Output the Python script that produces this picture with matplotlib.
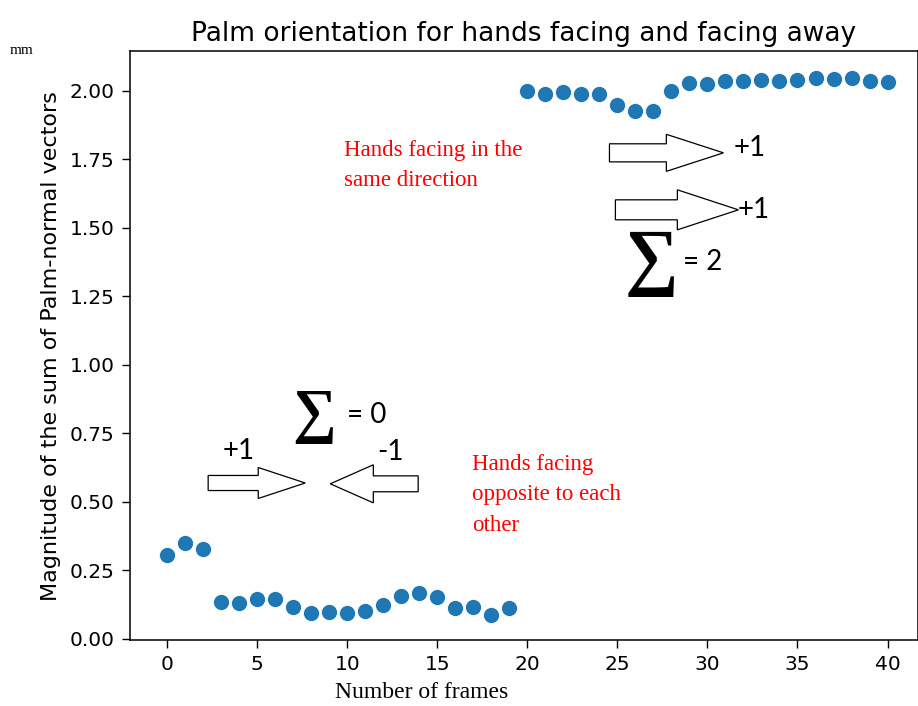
import matplotlib
matplotlib.use("Agg")
import matplotlib.pyplot as plt
from matplotlib.patches import FancyArrow

frames = list(range(41))
magnitude = [0.307, 0.351, 0.327, 0.135, 0.130, 0.147, 0.147, 0.116, 0.094, 0.099,
             0.094, 0.100, 0.123, 0.157, 0.169, 0.152, 0.112, 0.116, 0.088, 0.112,
             2.000, 1.988, 1.995, 1.989, 1.989, 1.949, 1.928, 1.928, 2.001, 2.030,
             2.024, 2.036, 2.036, 2.040, 2.036, 2.040, 2.046, 2.044, 2.046, 2.038,
             2.034]

title = "Palm orientation for hands facing and facing away"
xlabel = "Number of frames"
ylabel = "Magnitude of the sum of Palm-normal vectors"
xticks = [0, 5, 10, 15, 20, 25, 30, 35, 40]
yticks = [0.00, 0.25, 0.50, 0.75, 1.00, 1.25, 1.50, 1.75, 2.00]

fig = plt.figure(figsize=(9.18, 7.06), dpi=100)
ax = fig.add_axes([0.1416, 0.0935, 0.858, 0.834])

ax.scatter(frames, magnitude, s=135, color="#1f77b4", edgecolor="white", linewidth=0.6, zorder=3)
ax.set_xlim(-2.06, 41.67)
ax.set_ylim(-0.004, 2.145)
ax.set_xticks(xticks)
ax.set_yticks(yticks)
ax.set_yticklabels([f"{v:.2f}" for v in yticks])
ax.tick_params(labelsize=14.5, length=5.5, width=1.0, pad=5.5)
for s in ax.spines.values():
    s.set_linewidth(1.1)
ax.set_title(title, fontsize=19, pad=7)
ax.set_ylabel(ylabel, fontsize=16, labelpad=6)

serif = ["Liberation Serif", "DejaVu Serif"]
calib = ["Lato", "DejaVu Sans"]

fig.text(0.459, 0.0198, xlabel, family=serif, fontsize=17, ha="center", va="center")
fig.text(0.011, 0.929, "mm", family=serif, fontsize=11, ha="left", va="center")

ax.text(9.83, 1.728, "Hands facing in the\nsame direction", family=serif, fontsize=16.5,
        color="red", ha="left", va="center", linespacing=1.6)
ax.text(16.94, 0.526, "Hands facing\nopposite to each\nother", family=serif, fontsize=16.5,
        color="red", ha="left", va="center", linespacing=1.6)

def block_arrow(x0, x1, y, w, hw, hl):
    ax.add_patch(FancyArrow(x0, y, x1 - x0, 0, width=w, head_width=hw, head_length=hl,
                            length_includes_head=True, facecolor="white", edgecolor="black",
                            linewidth=0.9, zorder=4))

block_arrow(24.56, 30.89, 1.774, 0.066, 0.135, 3.17)
block_arrow(24.89, 31.72, 1.566, 0.073, 0.146, 3.39)
block_arrow(2.28, 7.67, 0.569, 0.055, 0.113, 2.61)
block_arrow(13.94, 9.06, 0.566, 0.058, 0.139, 2.39)

ax.text(31.44, 1.792, "+1", family=calib, fontsize=20, ha="left", va="center", zorder=5)
ax.text(31.67, 1.566, "+1", family=calib, fontsize=20, ha="left", va="center", zorder=5)
ax.text(26.9, 1.372, "\u2211", family=serif, fontweight="bold", fontsize=54, ha="center", va="center")
ax.text(28.67, 1.376, "= 2", family=calib, fontsize=20, ha="left", va="center")
ax.text(3.06, 0.686, "+1", family=calib, fontsize=20, ha="left", va="center")
ax.text(11.67, 0.682, "-1", family=calib, fontsize=20, ha="left", va="center")
ax.text(8.17, 0.814, "\u2211", family=serif, fontweight="bold", fontsize=44, ha="center", va="center")
ax.text(10.0, 0.818, "= 0", family=calib, fontsize=20, ha="left", va="center")

fig.savefig("out.png", dpi=100)
